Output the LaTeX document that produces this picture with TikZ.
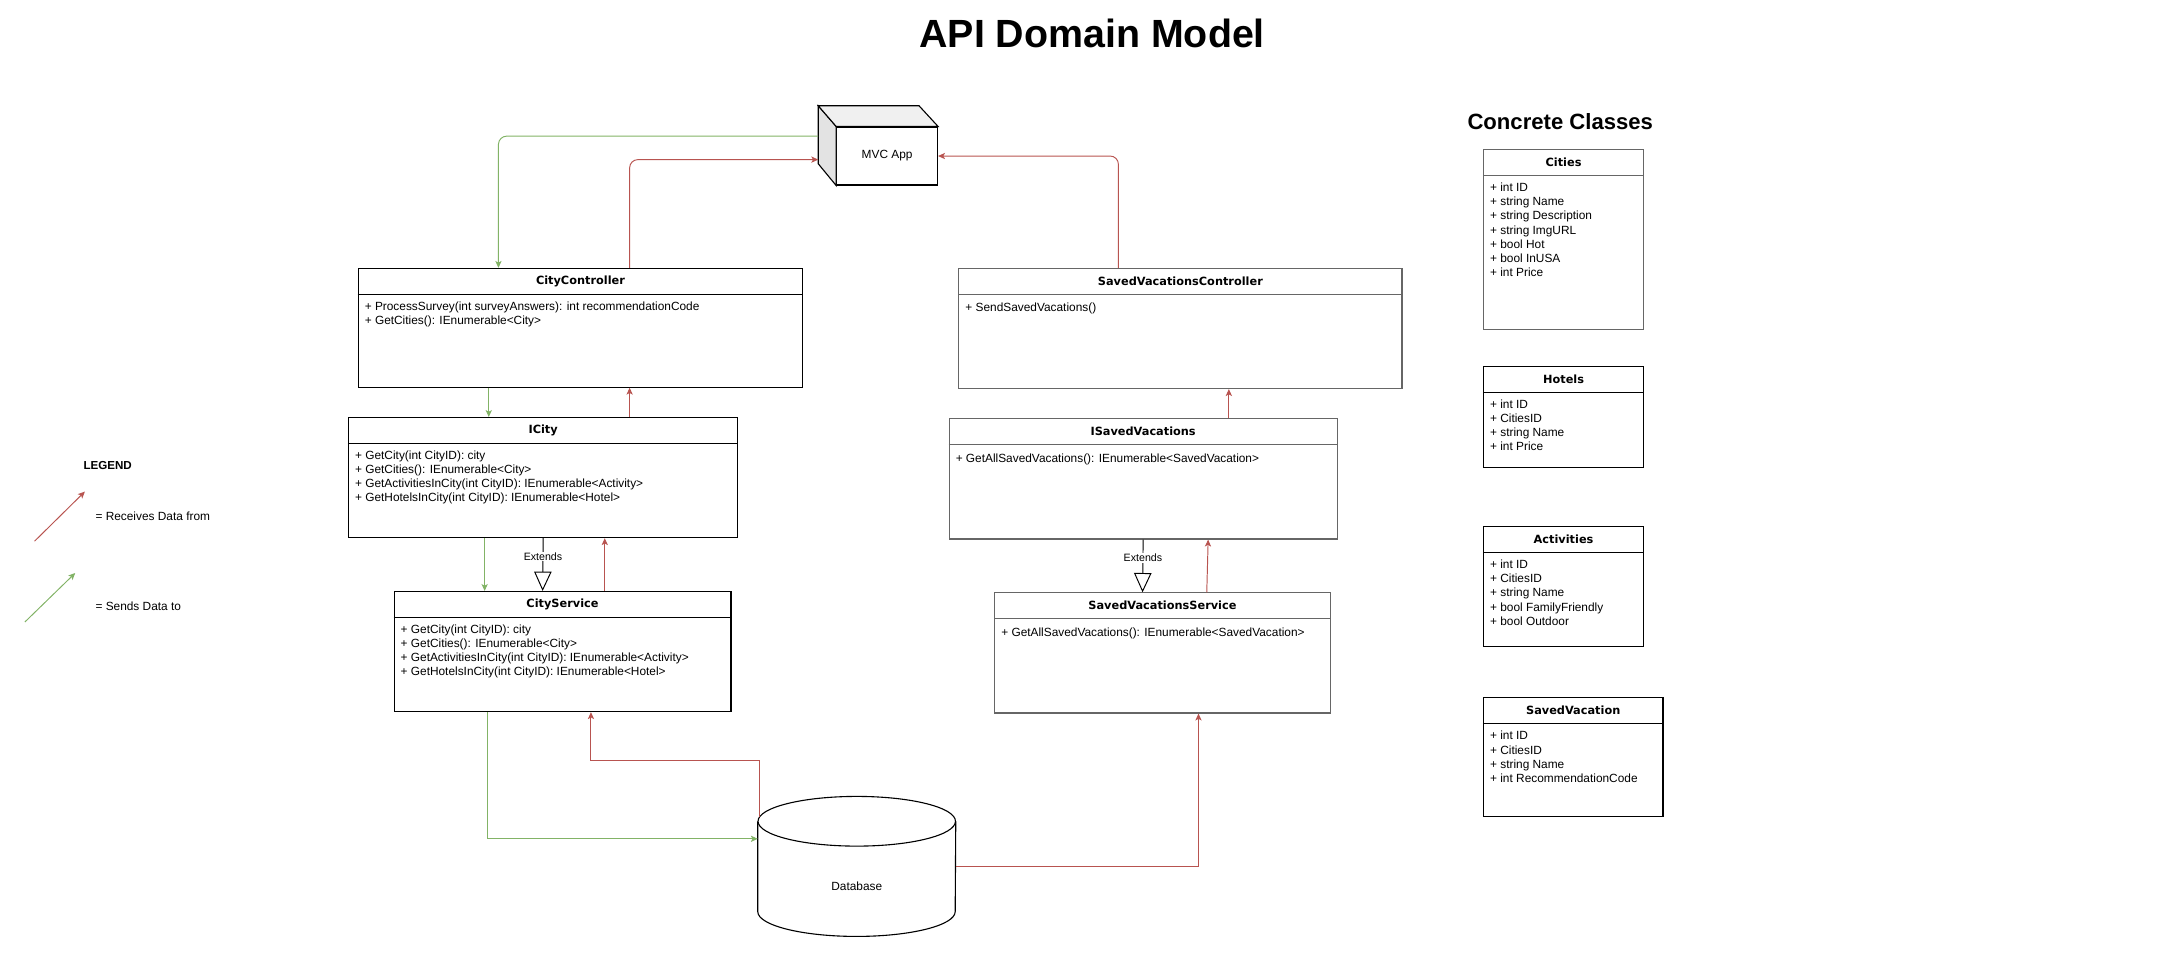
\documentclass[tikz,border=0pt]{standalone}
\usepackage{fontspec}
\setmainfont{Liberation Sans}
\newfontfamily\dejavu{DejaVu Sans}
\usetikzlibrary{arrows.meta}

\definecolor{recvred}{HTML}{B85450}
\definecolor{sendgreen}{HTML}{82B366}
\definecolor{boxgray}{HTML}{666666}

\tikzset{
	classbox/.style={draw, line width=0.8pt, fill=white, anchor=north west, inner sep=0pt},
	classtitle/.style={inner sep=0pt, font=\dejavu\bfseries\fontsize{8.2}{9.8}\selectfont},
	members/.style={anchor=north west, align=left, inner sep=0pt, font=\fontsize{8.6}{10.2}\selectfont, execute at begin node=\strut},
	small/.style={font=\fontsize{8.6}{10.2}\selectfont},
	receives/.style={draw=recvred, line width=0.7pt, -{Stealth[length=5pt, width=4.5pt, inset=1.2pt]}},
	sends/.style={draw=sendgreen, line width=0.7pt, -{Stealth[length=5pt, width=4.5pt, inset=1.2pt]}},
	extends/.style={line width=0.7pt, -{Triangle[length=14pt, width=12.6pt, fill=white]}},
	extlabel/.style={fill=white, inner sep=0.5pt, font=\fontsize{7.7}{9}\selectfont},
}

% name, x, y, width, height, title, members
\newcommand{\umlclass}[8][]{%
	\node[classbox, #1, minimum width=#5, minimum height=#6] (#2) at (#3,#4) {};
	\node[classtitle] (#2-t) at ([yshift=-9.5]#2.north) {#7};
	\draw[#1, line width=0.8pt] ([yshift=-19]#2.north west) -- ([yshift=-19]#2.north east);
	\node[members] (#2-m) at ([xshift=5, yshift=-24.5]#2.north west) {#8};
}

\begin{document}
\begin{tikzpicture}[x=1pt, y=-1pt]
	\useasboundingbox (0,0) rectangle (1568,703);

	\node[font=\bfseries\fontsize{28.5}{30}\selectfont] (title) at (791,24.5) {API Domain Model};
	\node[font=\bfseries\fontsize{16}{18}\selectfont] (concrete) at (1130,88) {Concrete Classes};

	\umlclass{cc}{259}{194}{322}{86}{CityController}{+ ProcessSurvey(int surveyAnswers): int recommendationCode\\+ GetCities(): IEnumerable<City>}
	\umlclass{icity}{252}{302}{282}{87}{ICity}{+ GetCity(int CityID): city\\+ GetCities(): IEnumerable<City>\\+ GetActivitiesInCity(int CityID): IEnumerable<Activity>\\+ GetHotelsInCity(int CityID): IEnumerable<Hotel>}
	\umlclass{cs}{285}{428}{244}{87}{CityService}{+ GetCity(int CityID): city\\+ GetCities(): IEnumerable<City>\\+ GetActivitiesInCity(int CityID): IEnumerable<Activity>\\+ GetHotelsInCity(int CityID): IEnumerable<Hotel>}

	\umlclass[draw=boxgray]{svc}{694}{194}{321}{87}{SavedVacationsController}{+ SendSavedVacations()}
	\umlclass[draw=boxgray]{isv}{687}{303}{281}{87}{ISavedVacations}{+ GetAllSavedVacations(): IEnumerable<SavedVacation>}
	\umlclass[draw=boxgray]{svs}{720}{429}{243}{87}{SavedVacationsService}{+ GetAllSavedVacations(): IEnumerable<SavedVacation>}

	\umlclass[draw=boxgray]{cities}{1074}{108}{116}{130}{Cities}{+ int ID\\+ string Name\\+ string Description\\+ string ImgURL\\+ bool Hot\\+ bool InUSA\\+ int Price}
	\umlclass{hotels}{1074}{265}{116}{73}{Hotels}{+ int ID\\+ CitiesID\\+ string Name\\+ int Price}
	\umlclass{activities}{1074}{381}{116}{87}{Activities}{+ int ID\\+ CitiesID\\+ string Name\\+ bool FamilyFriendly\\+ bool Outdoor}
	\umlclass{savedvac}{1074}{505}{130}{86}{SavedVacation}{+ int ID\\+ CitiesID\\+ string Name\\+ int RecommendationCode}

	% mvc app box
	\node[draw, fill=white, line width=0.8pt, minimum width=73, minimum height=42, inner sep=0pt, small] (mvc) at (642.5,113) {MVC App};
	\draw[line width=0.8pt, fill=gray!22] (mvc.north west) -- ++(-13,-15) -- ++(0,42) -- (mvc.south west) -- cycle;
	\draw[line width=0.8pt, fill=gray!12] (mvc.north west) -- ++(-13,-15) -- ++(73,0) -- (mvc.north east) -- cycle;
	\coordinate (mvc-g) at ([xshift=-13, yshift=-7]mvc.north west);
	\coordinate (mvc-r) at ([xshift=-13, yshift=-24]mvc.north west);

	% database
	\node[minimum width=143, minimum height=101, inner sep=0pt] (db) at (620.5,627.5) {};
	\draw[line width=0.8pt, fill=white] ([yshift=-18]db.north west) -- ([yshift=18]db.south west) arc[start angle=180, end angle=360, x radius=71.5pt, y radius=18pt] -- ([yshift=-18]db.north east);
	\draw[line width=0.8pt, fill=white] ([yshift=-18]db.north) ellipse[x radius=71.5pt, y radius=18pt];
	\node[small] (db-t) at ([yshift=-14.5]db.center) {Database};

	\draw[sends, rounded corners=6pt] (mvc-g) -| ([xshift=102]cc.north west);
	\draw[receives, rounded corners=6pt] ([xshift=197]cc.north west) |- (mvc-r);
	\draw[receives, rounded corners=6pt] ([xshift=116]svc.north west) |- (mvc.east);

	\draw[sends] ([xshift=95]cc.south west) -- ([xshift=102]icity.north west);
	\draw[receives] ([xshift=204]icity.north west) -- ([xshift=197]cc.south west);
	\draw[sends] ([xshift=99]icity.south west) -- ([xshift=66]cs.north west);
	\draw[receives] ([xshift=153]cs.north west) -- ([xshift=186]icity.south west);
	\draw[extends] (icity.south) -- ([xshift=108]cs.north west) node[extlabel, pos=0.35] (ext1) {Extends};

	\draw[receives] ([xshift=203]isv.north west) -- ([xshift=196]svc.south west);
	\draw[receives] ([xshift=154]svs.north west) -- ([xshift=188]isv.south west);
	\draw[extends] (isv.south) -- ([xshift=107.5]svs.north west) node[extlabel, pos=0.35] (ext2) {Extends};

	\draw[sends] ([xshift=68]cs.south west) |- ([yshift=20]db.west);
	\draw[receives] ([xshift=1.5, yshift=-15]db.north west) |- ([xshift=143, yshift=-35]cs.south west) -- ([xshift=143]cs.south west);
	\draw[receives] (db.east) -| ([xshift=148]svs.south west);

	% legend
	\node[font=\bfseries\fontsize{8.4}{10}\selectfont] (legend) at (78,337) {LEGEND};
	\coordinate (lg-r0) at (25,392);
	\coordinate (lg-r1) at (61.5,356);
	\draw[receives] (lg-r0) -- (lg-r1);
	\node[small, anchor=west, inner sep=1pt] (lg-rt) at (68,374) {= Receives Data from};
	\coordinate (lg-g0) at (18,450.5);
	\coordinate (lg-g1) at (54.5,415);
	\draw[sends] (lg-g0) -- (lg-g1);
	\node[small, anchor=west, inner sep=1pt] (lg-gt) at (68,439) {= Sends Data to};

\end{tikzpicture}
\end{document}
